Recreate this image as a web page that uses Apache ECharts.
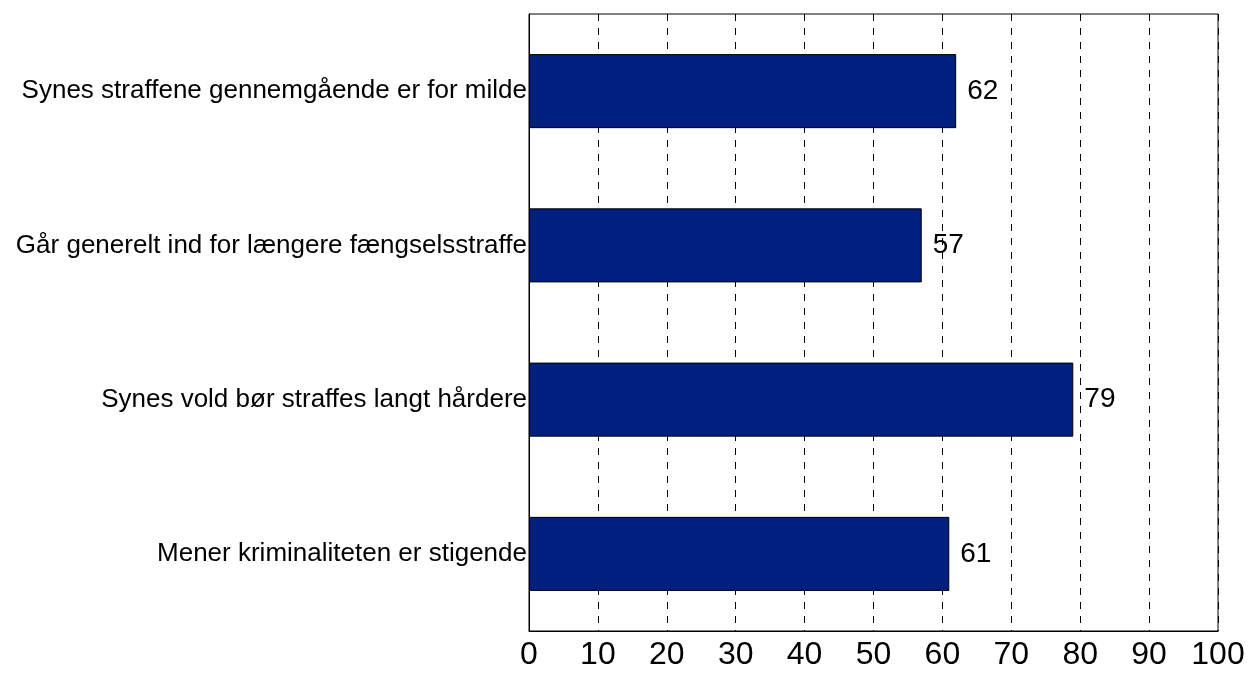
<!DOCTYPE html>
<html><head><meta charset="utf-8">
<script src="https://cdn.jsdelivr.net/npm/echarts@6/dist/echarts.min.js"></script>
<style>html,body{margin:0;padding:0;background:#fff}#c{width:1250px;height:675px}</style>
</head><body><div id="c"></div>
<script>
const categories = [
  "Synes straffene gennemgående er for milde",
  "Går generelt ind for længere fængselsstraffe",
  "Synes vold bør straffes langt hårdere",
  "Mener kriminaliteten er stigende"
];
const values = [62, 57, 79, 61];
const xTicks = [0, 10, 20, 30, 40, 50, 60, 70, 80, 90, 100];

const chart = echarts.init(document.getElementById('c'));
chart.setOption({
  animation: false,
  grid: { left: 529, right: 32, top: 14, bottom: 44, show: true, borderColor: '#000', borderWidth: 1 },
  xAxis: {
    type: 'value', min: xTicks[0], max: xTicks[xTicks.length - 1], interval: 10,
    axisLine: { show: true, lineStyle: { color: '#000' } },
    axisTick: { show: false },
    axisLabel: { fontFamily: 'Liberation Sans, Arial', fontSize: 32, color: '#000', margin: 8 },
    splitLine: { show: true, lineStyle: { color: '#000', type: [7, 7], width: 1 } }
  },
  yAxis: {
    type: 'category', data: categories, inverse: true,
    axisLine: { show: true, lineStyle: { color: '#000' } },
    axisTick: { show: false },
    axisLabel: { fontFamily: 'Liberation Sans, Arial', fontSize: 26, color: '#000', margin: 2 }
  },
  series: [{
    type: 'bar', data: values, barCategoryGap: '52%',
    itemStyle: { color: '#00207F', borderColor: '#000', borderWidth: 1 },
    label: { show: true, position: 'right', distance: 11, fontFamily: 'Liberation Sans, Arial', fontSize: 28, color: '#000' }
  }]
});
</script></body></html>
